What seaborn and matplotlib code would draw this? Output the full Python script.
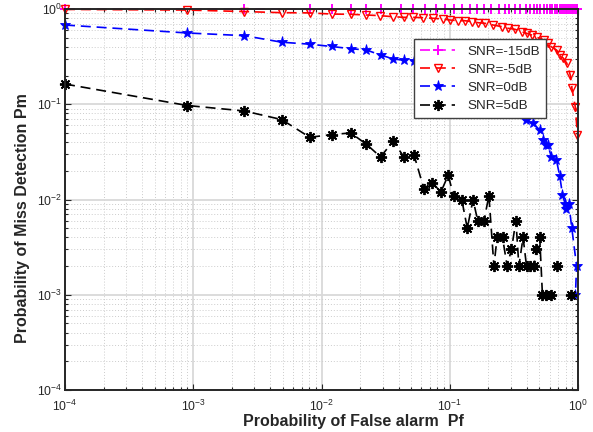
import numpy as np
import pandas as pd
import matplotlib
matplotlib.use("Agg")
import matplotlib.pyplot as plt
import seaborn as sns
from matplotlib.lines import Line2D
from matplotlib.ticker import LogLocator, NullFormatter, LogFormatterSciNotation

# ---------------- data ----------------
labels = ["SNR=-15dB", "SNR=-5dB", "SNR=0dB", "SNR=5dB"]

pf_m15 = [1e-4, 2.5e-3, 8.1e-3, 0.012, 0.0169, 0.0224, 0.029, 0.042, 0.052, 0.064,
          0.078, 0.092, 0.108, 0.125, 0.144, 0.162, 0.184, 0.21, 0.24, 0.27,
          0.29, 0.32, 0.35, 0.39, 0.42, 0.45, 0.48, 0.51, 0.54, 0.57,
          0.60, 0.63, 0.66, 0.69, 0.72, 0.75, 0.78, 0.81, 0.84, 0.87,
          0.90, 0.93, 0.96, 0.98, 0.99]
pm_m15 = [1.0, 1.0, 1.0, 1.0, 1.0, 1.0, 1.0, 1.0, 1.0, 1.0,
          1.0, 1.0, 1.0, 1.0, 1.0, 1.0, 1.0, 1.0, 1.0, 1.0,
          0.999, 0.999, 0.999, 0.999, 0.999, 0.999, 0.999, 0.999, 0.998, 0.998,
          0.998, 0.998, 0.998, 0.997, 0.997, 0.997, 0.996, 0.996, 0.995, 0.995,
          0.994, 0.993, 0.992, 0.991, 0.99]

pf_m5 = [1e-4, 9e-4, 2.5e-3, 4.9e-3, 8.1e-3, 0.012, 0.0169, 0.0224, 0.0288, 0.036,
         0.0439, 0.052, 0.0621, 0.0743, 0.0886, 0.0998, 0.116, 0.131, 0.148, 0.167,
         0.188, 0.218, 0.255, 0.286, 0.323, 0.363, 0.397, 0.436, 0.478, 0.539,
         0.581, 0.618, 0.681, 0.724, 0.769, 0.818, 0.870, 0.896, 0.952, 0.99]
pm_m5 = [0.99, 0.975, 0.94, 0.915, 0.91, 0.885, 0.88, 0.865, 0.851, 0.830,
         0.818, 0.818, 0.810, 0.799, 0.785, 0.767, 0.754, 0.754, 0.736, 0.718,
         0.708, 0.679, 0.652, 0.627, 0.612, 0.578, 0.556, 0.533, 0.505, 0.473,
         0.436, 0.402, 0.371, 0.329, 0.304, 0.270, 0.203, 0.148, 0.094, 0.0477]

pf_0 = [1e-4, 9e-4, 2.5e-3, 4.9e-3, 8.1e-3, 0.012, 0.0169, 0.0224, 0.0289, 0.0362,
        0.0439, 0.0528, 0.0628, 0.0729, 0.0853, 0.0973, 0.124, 0.152, 0.185, 0.221,
        0.258, 0.303, 0.346, 0.392, 0.444, 0.503, 0.532, 0.562, 0.582, 0.620,
        0.678, 0.721, 0.757, 0.794, 0.81, 0.848, 0.895, 0.975, 0.955]
pm_0 = [0.679, 0.560, 0.525, 0.448, 0.427, 0.404, 0.383, 0.371, 0.329, 0.299,
        0.290, 0.287, 0.27, 0.255, 0.24, 0.225, 0.20, 0.18, 0.155, 0.135,
        0.115, 0.095, 0.08, 0.0676, 0.0636, 0.0537, 0.0417, 0.037, 0.0374, 0.028,
        0.0261, 0.0176, 0.0112, 0.009, 0.008, 0.009, 0.005, 0.002, 0.001]

pf_5 = [1e-4, 9e-4, 2.5e-3, 4.9e-3, 8.1e-3, 0.012, 0.0169, 0.0224, 0.0289, 0.0362,
        0.0439, 0.0528, 0.0628, 0.0729, 0.0853, 0.0973, 0.107, 0.124, 0.137, 0.152,
        0.165, 0.185, 0.202, 0.221, 0.234, 0.258, 0.280, 0.303, 0.328, 0.346,
        0.373, 0.397, 0.421, 0.452, 0.474, 0.503, 0.528, 0.568, 0.614, 0.65,
        0.687, 0.74, 0.80, 0.889, 0.95]
pm_5 = [0.163, 0.097, 0.085, 0.069, 0.045, 0.048, 0.050, 0.038, 0.028, 0.041,
        0.028, 0.029, 0.013, 0.015, 0.012, 0.018, 0.011, 0.010, 0.005, 0.010,
        0.006, 0.006, 0.011, 0.002, 0.004, 0.004, 0.002, 0.003, 0.006, 0.002,
        0.004, 0.002, 0.002, 0.002, 0.003, 0.004, 0.001, 0.001, 0.001, np.nan,
        0.002, np.nan, np.nan, 0.001, np.nan]

xticks = [1e-4, 1e-3, 1e-2, 1e-1, 1e0]
yticks = [1e-4, 1e-3, 1e-2, 1e-1, 1e0]
xlabel = "Probability of False alarm  Pf"
ylabel = "Probability of Miss Detection Pm"

# ---------------- styling ----------------
sns.set_theme(style="white")
plt.rcParams["font.family"] = ["Liberation Sans", "DejaVu Sans"]
plt.rcParams["mathtext.default"] = "regular"

series = [
    (pf_m15, pm_m15, dict(color="#ff00ff", marker="+", markersize=6.5,
                           markeredgewidth=1.4, markeredgecolor="#ff00ff",
                           markerfacecolor="#ff00ff")),
    (pf_m5, pm_m5, dict(color="#ff0000", marker="v", markersize=5.5,
                         markeredgewidth=1.0, markeredgecolor="#ff0000",
                         markerfacecolor="none")),
    (pf_0, pm_0, dict(color="#0000ff", marker="*", markersize=8,
                       markeredgewidth=0.6, markeredgecolor="#0000ff",
                       markerfacecolor="#0000ff")),
    (pf_5, pm_5, dict(color="#000000", marker=(8, 2, 0), markersize=8,
                       markeredgewidth=1.35, markeredgecolor="#000000",
                       markerfacecolor="#000000")),
]
dash = (0, (6, 3.5))
lw = 1.2

fig = plt.figure(figsize=(5.93, 4.32), dpi=100)
ax = fig.add_axes([65 / 593, 1 - 390 / 432, 513 / 593, 381 / 432])
ax.set_xscale("log")
ax.set_yscale("log")

handles = []
for (xs, ys, st), lab in zip(series, labels):
    y = np.asarray(ys, dtype=float)
    df = pd.DataFrame({"pf": xs, "pm": y, "seg": np.cumsum(np.isnan(y))})
    df = df.dropna()
    sns.lineplot(data=df, x="pf", y="pm", units="seg", estimator=None, sort=False,
                 ax=ax, linewidth=lw, linestyle=dash, clip_on=False, **st)
    handles.append(Line2D([], [], linewidth=lw, linestyle=dash, **st))

ax.set_xlim(1e-4, 1e0)
ax.set_ylim(1e-4, 1e0)
ax.set_xticks(xticks)
ax.set_yticks(yticks)
ax.xaxis.set_major_formatter(LogFormatterSciNotation())
ax.yaxis.set_major_formatter(LogFormatterSciNotation())
ax.xaxis.set_minor_locator(LogLocator(base=10, subs=np.arange(2, 10), numticks=20))
ax.yaxis.set_minor_locator(LogLocator(base=10, subs=np.arange(2, 10), numticks=20))
ax.xaxis.set_minor_formatter(NullFormatter())
ax.yaxis.set_minor_formatter(NullFormatter())

ax.set_axisbelow(True)
ax.grid(True, which="major", color="#d9d9d9", linewidth=1.3, linestyle="-")
ax.grid(True, which="minor", color="#cccccc", linewidth=0.7, linestyle=(0, (1, 2)))

for sp in ax.spines.values():
    sp.set_visible(True)
    sp.set_color("#262626")
    sp.set_linewidth(1.4)

ax.tick_params(which="both", direction="in", top=True, right=True,
               bottom=True, left=True, color="#262626", width=0.8)
ax.tick_params(which="major", length=4)
ax.tick_params(which="minor", length=2.5)
ax.tick_params(axis="x", which="major", labelsize=8.8, pad=6, labelcolor="#262626")
ax.tick_params(axis="y", which="major", labelsize=8.8, pad=2, labelcolor="#262626")

ax.set_xlabel(xlabel, fontsize=11.5, fontweight="bold", color="#262626")
ax.set_ylabel(ylabel, fontsize=11.5, fontweight="bold", color="#262626")
ax.xaxis.set_label_coords(0.5624, -0.062)
ax.yaxis.set_label_coords(-0.069, 0.451)

leg = ax.legend(handles, labels, loc="upper left", bbox_to_anchor=(0.681, 0.920),
                borderaxespad=0, fontsize=9.7, frameon=True, fancybox=False,
                handlelength=2.6, handletextpad=0.9, labelspacing=0.42,
                borderpad=0.45, numpoints=1)
leg.get_frame().set_edgecolor("#404040")
leg.get_frame().set_linewidth(1.0)
leg.get_frame().set_facecolor("white")
leg.get_frame().set_alpha(1.0)

fig.savefig("out.png", dpi=100)
